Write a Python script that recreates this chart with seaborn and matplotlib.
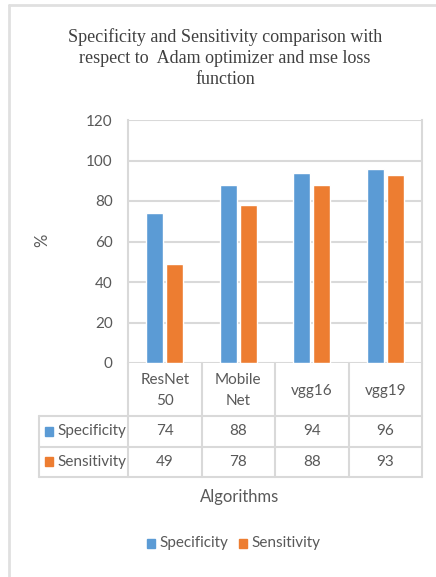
import numpy as np
import pandas as pd
import matplotlib
matplotlib.use("Agg")
import matplotlib.pyplot as plt
import seaborn as sns

# data
algorithms = ["ResNet\n50", "Mobile\nNet", "vgg16", "vgg19"]
metrics = ["Specificity", "Sensitivity"]
specificity = [74, 88, 94, 96]
sensitivity = [49, 78, 88, 93]
yticks = [0, 20, 40, 60, 80, 100, 120]

colors = ["#5B9BD5", "#ED7D31"]
grid_c = "#D9D9D9"
txt_c = "#595959"

df = pd.DataFrame({
    "Algorithm": algorithms * 2,
    "Metric": [metrics[0]] * 4 + [metrics[1]] * 4,
    "value": specificity + sensitivity,
})

sns.set_style("white")
plt.rcParams["font.family"] = ["Lato", "DejaVu Sans"]

W, H = 436, 577
fig = plt.figure(figsize=(W / 100, H / 100), dpi=100)

# overlay in pixel coords for the frame and the data table
bg = fig.add_axes([0, 0, 1, 1], zorder=0)
bg.set_xlim(0, W)
bg.set_ylim(H, 0)
bg.axis("off")

# plot area: x 128..422, y 120..363 px
L, R, T, B = 128, 422, 120, 363
ax = fig.add_axes([L / W, 1 - B / H, (R - L) / W, (B - T) / H], zorder=1)
ax.patch.set_alpha(0)

sns.barplot(data=df, x="Algorithm", y="value", hue="Metric", palette=colors,
            saturation=1, width=0.55, gap=0.15, ax=ax, legend=False, zorder=3)
ax.set_ylim(0, 120)
ax.set_xlim(-0.5, len(algorithms) - 0.5)
ax.set_yticks(yticks)
ax.set_yticklabels([str(v) for v in yticks], color=txt_c, fontsize=11)
ax.tick_params(axis="y", length=0, pad=11)
ax.set_xticks([])
ax.set_xlabel("")
ax.set_ylabel("")
ax.grid(axis="y", color=grid_c, linewidth=1.5, zorder=0)
for s in ["left", "right"]:
    ax.spines[s].set_visible(True)
    ax.spines[s].set_color(grid_c)
    ax.spines[s].set_linewidth(1.5)
ax.spines["top"].set_visible(False)
ax.spines["bottom"].set_visible(False)

# outer frame (left/top edges only)
bg.plot([9, 9], [5, H], color="#E0E0E0", lw=2)
bg.plot([9, W], [5, 5], color="#E0E0E0", lw=2)

# title
fig.text(225 / W, 1 - 58 / H,
         "Specificity and Sensitivity comparison with\nrespect to  Adam optimizer and mse loss\nfunction",
         ha="center", va="center", fontsize=13, color="#404040",
         family="Liberation Serif", linespacing=1.3)

fig.text(42 / W, 1 - 240 / H, "%", rotation=90, ha="center", va="center",
         fontsize=12, color=txt_c)

# data table
col_edges = np.linspace(L, R, len(algorithms) + 1)
rows_y = [B, 416, 446.5, 477]
lw = 1.5
for x in col_edges:
    bg.plot([x, x], [B, rows_y[-1]], color=grid_c, lw=lw)
bg.plot([39, 39], [rows_y[1], rows_y[-1]], color=grid_c, lw=lw)
for y in rows_y[1:]:
    bg.plot([39, R], [y, y], color=grid_c, lw=lw)

for i, name in enumerate(algorithms):
    cx = (col_edges[i] + col_edges[i + 1]) / 2
    bg.text(cx, (rows_y[0] + rows_y[1]) / 2 + 1, name, ha="center", va="center",
            fontsize=11, color=txt_c, linespacing=1.55)
    for r, vals in enumerate([specificity, sensitivity]):
        bg.text(cx, (rows_y[r + 1] + rows_y[r + 2]) / 2, str(vals[i]),
                ha="center", va="center", fontsize=11, color=txt_c)

for r, m in enumerate(metrics):
    cy = (rows_y[r + 1] + rows_y[r + 2]) / 2
    bg.add_patch(plt.Rectangle((45, cy - 4.5), 8, 9, color=colors[r]))
    bg.text(57, cy, m, ha="left", va="center", fontsize=11, color=txt_c)

fig.text(240 / W, 1 - 497 / H, "Algorithms", ha="center", va="center",
         fontsize=12, color=txt_c)

# legend
leg_y = 543
bg.add_patch(plt.Rectangle((147, leg_y - 4.5), 8, 9, color=colors[0]))
bg.text(159, leg_y, metrics[0], ha="left", va="center", fontsize=11, color=txt_c)
bg.add_patch(plt.Rectangle((239, leg_y - 4.5), 8, 9, color=colors[1]))
bg.text(251, leg_y, metrics[1], ha="left", va="center", fontsize=11, color=txt_c)

fig.savefig("out.png", dpi=100)
